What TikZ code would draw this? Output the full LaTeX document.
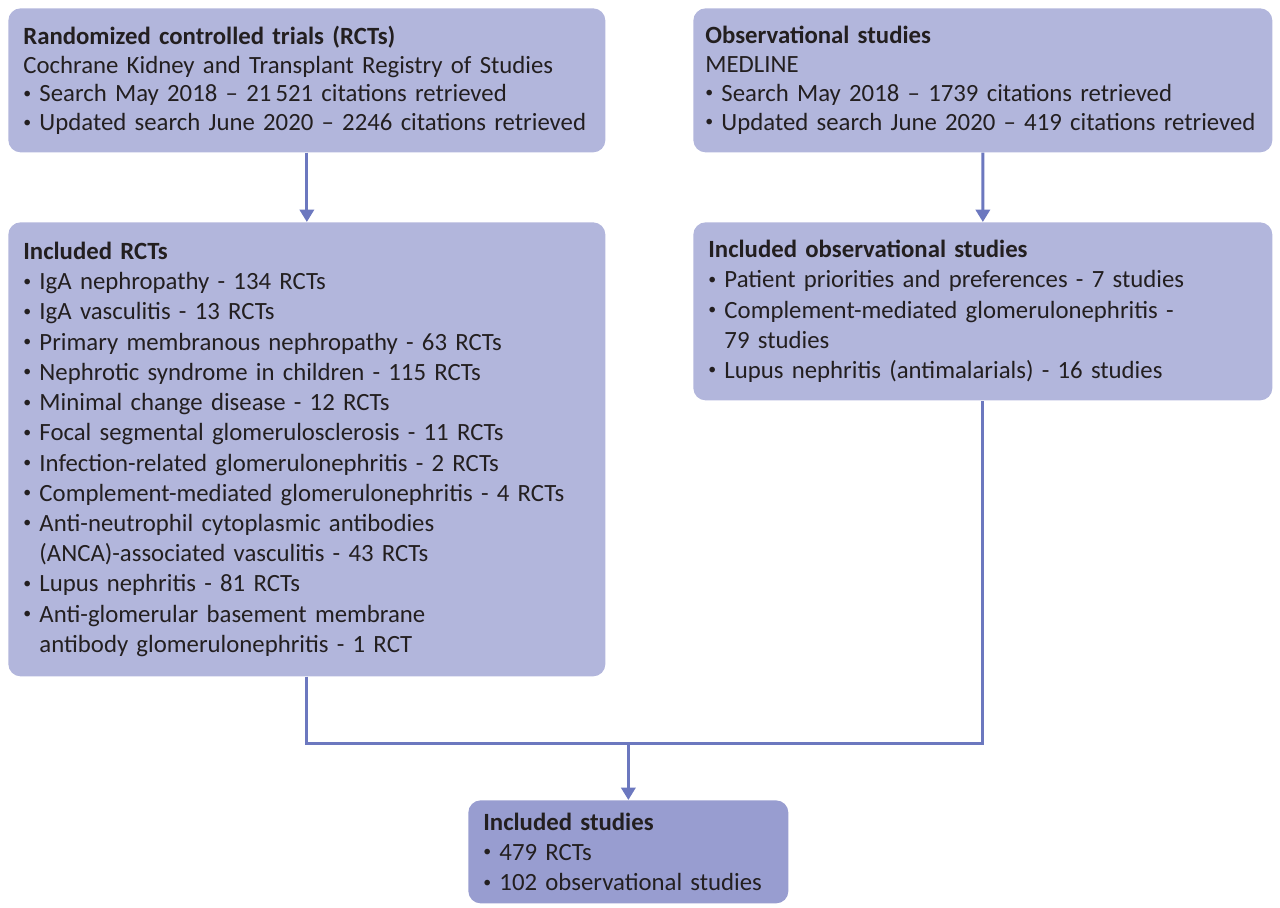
\documentclass[tikz,border=0pt]{standalone}
\usepackage{fontspec}
\setmainfont{Carlito}
\usepackage{xcolor}
\usepackage{tikz}
\usetikzlibrary{arrows.meta, positioning, calc}
\definecolor{boxlav}{HTML}{B2B6DC}
\definecolor{boxdeep}{HTML}{989DD0}
\definecolor{linkblue}{HTML}{6C78BF}
\definecolor{inktext}{HTML}{231F20}
\newcommand{\bul}{\raisebox{0.3ex}{\fontsize{9}{9}\selectfont\textbullet}\ }
\newcommand{\ind}{\hphantom{\bul}}
\hyphenpenalty=10000

\begin{document}
\begin{tikzpicture}[
  x=0.2mm, y=-0.2mm,
  box/.style={fill=boxlav, rounded corners=7pt, anchor=north west, align=left,
    inner xsep=0.3cm, inner ysep=0pt, text=inktext,
    font=\fontsize{14.1}{17.2}\selectfont},
  tight/.style={font=\fontsize{14.1}{16.4}\selectfont},
  link/.style={draw=linkblue, line width=1.7pt, -{Triangle[width=8pt,length=7pt]}},
  joint/.style={draw=linkblue, line width=1.7pt},
]
  \useasboundingbox (0,0) rectangle (1280,907);

  % Searches
  \node[box, tight, text width=11.34cm, minimum height=2.88cm] (rctsearch) at (8,8)
    {\textbf{Randomized controlled trials (RCTs)}\\
     Cochrane Kidney and Transplant Registry of Studies\\
     \bul Search May 2018 -- 21\,521 citations retrieved\\
     \bul Updated search June 2020 -- 2246 citations retrieved};
  \node[box, tight, text width=11.1cm, inner xsep=0.24cm, minimum height=2.88cm] (obssearch) at (693,8)
    {\textbf{Observational studies}\\
     MEDLINE\\
     \bul Search May 2018 -- 1739 citations retrieved\\
     \bul Updated search June 2020 -- 419 citations retrieved};

  % Included per type
  \node[box, text width=11.34cm, minimum height=9.08cm] (rctincl) at (8,222)
    {\textbf{Included RCTs}\\
     \bul IgA nephropathy - 134 RCTs\\
     \bul IgA vasculitis - 13 RCTs\\
     \bul Primary membranous nephropathy - 63 RCTs\\
     \bul Nephrotic syndrome in children - 115 RCTs\\
     \bul Minimal change disease - 12 RCTs\\
     \bul Focal segmental glomerulosclerosis - 11 RCTs\\
     \bul Infection-related glomerulonephritis - 2 RCTs\\
     \bul Complement-mediated glomerulonephritis - 4 RCTs\\
     \bul Anti-neutrophil cytoplasmic antibodies\\
     \ind(ANCA)-associated vasculitis - 43 RCTs\\
     \bul Lupus nephritis - 81 RCTs\\
     \bul Anti-glomerular basement membrane\\
     \ind antibody glomerulonephritis - 1 RCT};
  \node[box, text width=10.98cm, minimum height=3.56cm] (obsincl) at (693,222)
    {\textbf{Included observational studies}\\
     \bul Patient priorities and preferences - 7 studies\\
     \bul Complement-mediated glomerulonephritis -\\
     \ind 79 studies\\
     \bul Lupus nephritis (antimalarials) - 16 studies};

  % Total
  \node[box, fill=boxdeep, text width=5.8cm, minimum height=2.06cm] (allincl) at (468,800)
    {\textbf{Included studies}\\
     \bul 479 RCTs\\
     \bul 102 observational studies};

  % Arrows
  \draw[link] (rctsearch.south) -- (rctincl.north);
  \draw[link] (obssearch.south) -- (obsincl.north);
  \coordinate (merge) at (allincl.north |- 0,743);
  \draw[joint] (rctincl.south) -- ++(0,67) -| (obsincl.south);
  \draw[link] (merge) -- (allincl.north);

\end{tikzpicture}
\end{document}
